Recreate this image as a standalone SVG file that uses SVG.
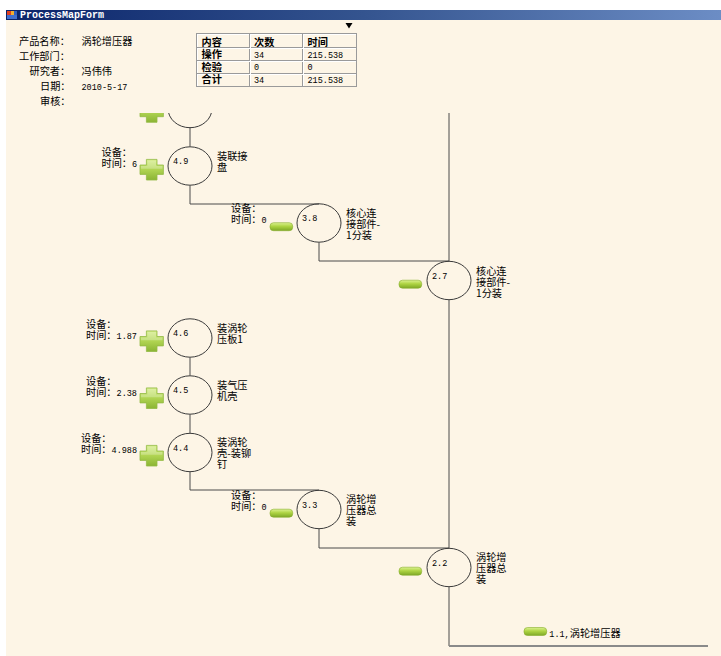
<svg xmlns="http://www.w3.org/2000/svg" xmlns:xlink="http://www.w3.org/1999/xlink" width="721" height="656" viewBox="0 0 721 656">
<style>
.cj{font-family:"Noto Sans CJK SC","Liberation Sans",sans-serif;font-size:10.2px;fill:#000}
.lb{font-family:"Noto Sans CJK SC","Liberation Sans",sans-serif;font-size:10.2px;fill:#000}
.b{font-weight:bold}
.n{font-family:"Liberation Mono","DejaVu Sans Mono",monospace;font-size:8.5px;fill:#000}
.c{fill:none;stroke:#3a3a3a;stroke-width:1}
.ln{fill:none;stroke:#4a4a4a;stroke-width:1}
.tb{stroke:#9a9a9a;stroke-width:1;fill:none}
.tbh{stroke:#ffffff;stroke-width:1;fill:none}
</style>
<defs>
<linearGradient id="tg" x1="0" y1="0" x2="1" y2="0">
<stop offset="0" stop-color="#0a246a"/>
<stop offset="0.5" stop-color="#34548f"/>
<stop offset="1" stop-color="#6c8dc5"/>
</linearGradient>
<linearGradient id="gg" x1="0" y1="0" x2="0" y2="1">
<stop offset="0" stop-color="#dcf291"/>
<stop offset="0.45" stop-color="#aed443"/>
<stop offset="1" stop-color="#7ea827"/>
</linearGradient>
<linearGradient id="pg" x1="0" y1="0" x2="0" y2="1">
<stop offset="0" stop-color="#d4ec86"/>
<stop offset="0.5" stop-color="#b0d452"/>
<stop offset="1" stop-color="#8bb434"/>
</linearGradient>
<g id="plus">
<path d="M-5.3,-10.3 H5.3 V-4.7 H11.7 V4.7 H5.3 V10.3 H-5.3 V4.7 H-11.7 V-4.7 H-5.3 Z" fill="url(#pg)" stroke="#93ba45" stroke-width="0.8" stroke-linejoin="round"/>
<path d="M-4.3,-9.3 H4.3 V-3.7 H10.7 V-1 H-10.7 V-3.7 H-4.3 Z" fill="#ffffff" opacity="0.25"/>
</g>
<g id="minus">
<rect x="0" y="0" width="22.7" height="8" rx="3.5" fill="url(#gg)" stroke="#86ad2c" stroke-width="0.6"/>
</g>
<clipPath id="area"><rect x="6" y="113" width="715" height="543"/></clipPath>
</defs>

<rect x="0" y="0" width="721" height="656" fill="#ffffff"/>
<rect x="6" y="20" width="715" height="636" fill="#fdf5e6"/>

<g id="titlebar">
<rect x="6" y="10" width="715" height="10" fill="url(#tg)"/>
<rect x="7" y="11" width="10" height="8" fill="#f0f0f0"/>
<rect x="7" y="11" width="4" height="4" fill="#e04020"/>
<rect x="11" y="11" width="3" height="4" fill="#f0b030"/>
<rect x="14" y="11" width="3" height="4" fill="#3060c0"/>
<rect x="7" y="15" width="10" height="4" fill="#4070d0"/>
<text x="20" y="18" font-family="Liberation Mono, monospace" font-weight="bold" font-size="10" fill="#ffffff">ProcessMapForm</text>
</g>

<g id="header">
<text class="cj"><tspan x="19" y="45">产品名称：</tspan><tspan x="19" y="60">工作部门：</tspan><tspan x="29.5" y="75">研究者：</tspan><tspan x="40" y="90">日期：</tspan><tspan x="40" y="105">审核：</tspan></text>
<text class="cj"><tspan x="81.5" y="45">涡轮增压器</tspan><tspan x="81.5" y="75">冯伟伟</tspan><tspan class="n" x="81.5" y="90">2010-5-17</tspan></text>
<polygon points="345.5,23 352.5,23 349,28.5" fill="#000"/>
</g>

<g id="summary-table">
<rect x="197.5" y="34.5" width="159" height="52" class="tbh"/>
<rect x="196.5" y="33.5" width="160" height="53" class="tb"/>
<path d="M197,47.5 H356 M197,60.5 H356 M197,73.5 H356 M249.5,34 V86 M302.5,34 V86" class="tb"/>
<path d="M197,48.5 H356 M197,61.5 H356 M197,74.5 H356 M250.5,34 V86 M303.5,34 V86" class="tbh"/>
<text class="cj b"><tspan x="201.5" y="45.5">内容</tspan><tspan x="201.5" y="58">操作</tspan><tspan x="201.5" y="70.5">检验</tspan><tspan x="201.5" y="83">合计</tspan></text>
<text class="cj"><tspan class="b" x="254" y="45.5">次数</tspan><tspan class="n" x="254" y="57.5">34</tspan><tspan class="n" x="254" y="70">0</tspan><tspan class="n" x="254" y="82.5">34</tspan></text>
<text class="cj"><tspan class="b" x="307.5" y="45.5">时间</tspan><tspan class="n" x="307.5" y="57.5">215.538</tspan><tspan class="n" x="307.5" y="70">0</tspan><tspan class="n" x="307.5" y="82.5">215.538</tspan></text>
</g>

<g clip-path="url(#area)">
<g id="connectors">
<path class="ln" d="M190,127.5 V146.5"/>
<path class="ln" d="M190,185.5 V204 H319"/>
<path class="ln" d="M319,242.5 V261 H449"/>
<path class="ln" d="M449,113 V261"/>
<path class="ln" d="M449,300 V548"/>
<path class="ln" d="M190,357.5 V375.5"/>
<path class="ln" d="M190,414.5 V433"/>
<path class="ln" d="M190,472 V490 H319"/>
<path class="ln" d="M319,529 V548 H449"/>
<path class="ln" d="M449,587 V646"/>
<path d="M449,646 H708" fill="none" stroke="#8a8a8a" stroke-width="2"/>
</g>

<g id="node-top">
<ellipse class="c" cx="190" cy="108.5" rx="22" ry="19.2"/>
<use xlink:href="#plus" x="151.7" y="112"/>
</g>

<g id="node-4-9">
<ellipse class="c" cx="190" cy="166" rx="22" ry="19.2"/>
<text class="n" x="173" y="164">4.9</text>
<text class="lb"><tspan x="217" y="159.5">装联接</tspan><tspan x="217" y="170.5">盘</tspan></text>
<text class="lb"><tspan x="101.5" y="155.5">设备：</tspan><tspan x="101.5" y="166.5">时间：</tspan><tspan class="n">6</tspan></text>
<use xlink:href="#plus" x="151.7" y="169.7"/>
</g>

<g id="node-3-8">
<ellipse class="c" cx="319" cy="223" rx="22" ry="19.2"/>
<text class="n" x="302" y="221">3.8</text>
<text class="lb"><tspan x="346" y="217">核心连</tspan><tspan x="346" y="228">接部件-</tspan><tspan x="346" y="239">1分装</tspan></text>
<text class="lb"><tspan x="231" y="212">设备：</tspan><tspan x="231" y="222.5">时间：</tspan><tspan class="n">0</tspan></text>
<use xlink:href="#minus" x="270" y="222.7"/>
</g>

<g id="node-2-7">
<ellipse class="c" cx="449" cy="280.5" rx="22" ry="19.2"/>
<text class="n" x="432" y="278.5">2.7</text>
<text class="lb"><tspan x="476" y="274.5">核心连</tspan><tspan x="476" y="285.5">接部件-</tspan><tspan x="476" y="296.5">1分装</tspan></text>
<use xlink:href="#minus" x="399" y="280.2"/>
</g>

<g id="node-4-6">
<ellipse class="c" cx="190" cy="338" rx="22" ry="19.2"/>
<text class="n" x="173" y="336">4.6</text>
<text class="lb"><tspan x="217" y="331.5">装涡轮</tspan><tspan x="217" y="342.5">压板1</tspan></text>
<text class="lb"><tspan x="86" y="327.5">设备：</tspan><tspan x="86" y="338.5">时间：</tspan><tspan class="n">1.87</tspan></text>
<use xlink:href="#plus" x="151.7" y="341.2"/>
</g>

<g id="node-4-5">
<ellipse class="c" cx="190" cy="395" rx="22" ry="19.2"/>
<text class="n" x="173" y="393">4.5</text>
<text class="lb"><tspan x="217" y="388.5">装气压</tspan><tspan x="217" y="399.5">机壳</tspan></text>
<text class="lb"><tspan x="86" y="384.5">设备：</tspan><tspan x="86" y="395.5">时间：</tspan><tspan class="n">2.38</tspan></text>
<use xlink:href="#plus" x="151.7" y="398.2"/>
</g>

<g id="node-4-4">
<ellipse class="c" cx="190" cy="452.5" rx="22" ry="19.2"/>
<text class="n" x="173" y="450.5">4.4</text>
<text class="lb"><tspan x="217" y="446">装涡轮</tspan><tspan x="217" y="457">壳-装铆</tspan><tspan x="217" y="468">钉</tspan></text>
<text class="lb"><tspan x="81" y="442">设备：</tspan><tspan x="81" y="453">时间：</tspan><tspan class="n">4.988</tspan></text>
<use xlink:href="#plus" x="151.7" y="455.7"/>
</g>

<g id="node-3-3">
<ellipse class="c" cx="319" cy="509.5" rx="22" ry="19.2"/>
<text class="n" x="302" y="507.5">3.3</text>
<text class="lb"><tspan x="346" y="503">涡轮增</tspan><tspan x="346" y="514">压器总</tspan><tspan x="346" y="525">装</tspan></text>
<text class="lb"><tspan x="231" y="499">设备：</tspan><tspan x="231" y="509.5">时间：</tspan><tspan class="n">0</tspan></text>
<use xlink:href="#minus" x="270" y="509.2"/>
</g>

<g id="node-2-2">
<ellipse class="c" cx="449" cy="567.5" rx="22" ry="19.2"/>
<text class="n" x="432" y="565.5">2.2</text>
<text class="lb"><tspan x="476" y="561">涡轮增</tspan><tspan x="476" y="572">压器总</tspan><tspan x="476" y="583">装</tspan></text>
<use xlink:href="#minus" x="399" y="567.2"/>
</g>

<g id="node-1-1">
<use xlink:href="#minus" x="524" y="627.5"/>
<text class="cj" x="549.3" y="637"><tspan class="n">1.1,</tspan>涡轮增压器</text>
</g>
</g>
</svg>
